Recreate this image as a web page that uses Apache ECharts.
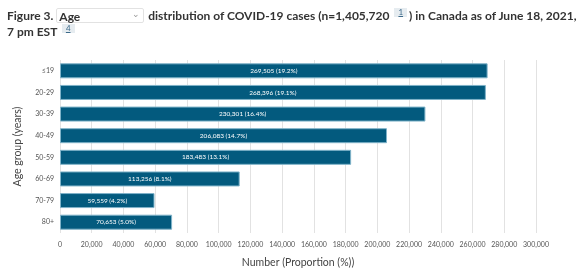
<!DOCTYPE html>
<html>
<head>
<meta charset="utf-8">
<script src="https://cdn.jsdelivr.net/npm/echarts@6/dist/echarts.min.js"></script>
<style>
  html, body { margin: 0; padding: 0; background: #fff; }
  .wrap { position: relative; width: 582px; height: 273px; }
  .title {
    position: absolute; left: 7px; top: 8px; width: 575px; white-space: nowrap;
    font-family: Lato, "Noto Sans", sans-serif; font-weight: bold;
    font-size: 12px; color: #333; line-height: 16px; z-index: 2;
  }
  .select {
    display: inline-block; width: 88px; height: 15px; line-height: 15px;
    border: 1px solid #e2e2e2; border-radius: 2px; background: #fff;
    font-weight: bold; padding-left: 2px; position: relative; vertical-align: -1px;
    box-sizing: border-box; margin-right: 1px;
  }
  .select:after {
    content: "\2304"; position: absolute; right: 3px; top: -3px;
    font-size: 9px; color: #999; font-weight: normal;
  }
  .sup {
    display: inline-block; background: #e6ecf0; color: #3d6a8a; font-size: 8px;
    line-height: 9px; padding: 0 4px; vertical-align: 5px; font-weight: normal;
    text-decoration: underline; margin: 0 2px;
  }
  #chart { position: absolute; left: 0; top: 0; width: 582px; height: 273px; }
</style>
</head>
<body>
<div class="wrap">
  <div class="title">Figure 3. <span class="select">Age</span> distribution of COVID-19 cases (n=1,405,720 <span class="sup">1</span>) in Canada as of June 18, 2021,<br>7 pm EST <span class="sup">4</span></div>
  <div id="chart"></div>
</div>
<script>
var ageGroups = ["≤19", "20-29", "30-39", "40-49", "50-59", "60-69", "70-79", "80+"];
var caseCounts = [269505, 268396, 230301, 206083, 183483, 113256, 59559, 70653];
var proportions = ["19.2", "19.1", "16.4", "14.7", "13.1", "8.1", "4.2", "5.0"];

var chart = echarts.init(document.getElementById("chart"));

var option = {
  animation: false,
  textStyle: { fontFamily: "Lato, 'Noto Sans', sans-serif" },
  grid: {
    left: 60,
    right: 46,
    top: 60,
    bottom: 32,
  },
  xAxis: {
    type: "value",
    min: 0,
    max: 300000,
    interval: 20000,
    name: "Number (Proportion (%))",
    nameLocation: "middle",
    nameGap: 24,
    nameTextStyle: { color: "#444", fontSize: 10.5 },
    axisLine: { show: false },
    axisTick: { show: false },
    axisLabel: {
      color: "#555",
      fontSize: 7,
      margin: 8,
      formatter: function (v) {
        return v.toLocaleString("en-US");
      },
    },
    splitLine: {
      lineStyle: { color: "#e2e2e2", width: 1 },
    },
  },
  yAxis: {
    type: "category",
    data: ageGroups,
    inverse: true,
    name: "Age group (years)",
    nameLocation: "middle",
    nameGap: 37,
    nameTextStyle: { color: "#444", fontSize: 10.5 },
    axisLine: { show: false },
    axisTick: { show: false },
    axisLabel: { color: "#555", fontSize: 7, margin: 6 },
  },
  series: [
    {
      type: "bar",
      data: caseCounts,
      barWidth: 15,
      itemStyle: {
        color: "#035a7e",
        borderColor: "#7fb3c9",
        borderWidth: 1,
      },
      label: {
        show: true,
        position: "inside",
        color: "#fff",
        fontSize: 6.5,
        formatter: function (p) {
          return p.value.toLocaleString("en-US") + " (" + proportions[p.dataIndex] + "%)";
        },
      },
    },
  ],
};

chart.setOption(option);
</script>
</body>
</html>
